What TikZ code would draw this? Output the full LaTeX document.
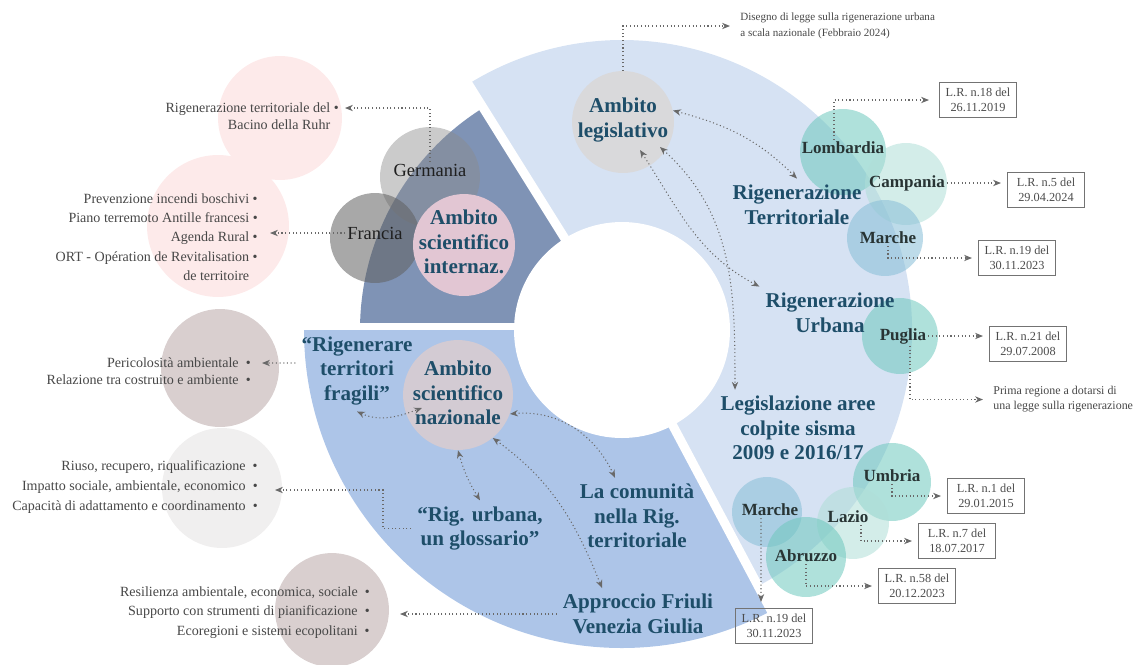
\documentclass[tikz,border=0pt]{standalone}
\usepackage{fontspec}
\setmainfont{Liberation Serif}
\usetikzlibrary{arrows.meta,positioning}
\definecolor{SecLight}{RGB}{214,226,243}
\definecolor{SecDark}{RGB}{127,147,181}
\definecolor{SecMid}{RGB}{173,197,232}
\definecolor{TitleBlue}{RGB}{30,78,105}
\definecolor{NameGrey}{RGB}{40,52,52}
\definecolor{PinkSoft}{RGB}{253,234,234}
\definecolor{PinkCirc}{RGB}{226,198,211}
\definecolor{GreyCirc}{RGB}{217,217,219}
\definecolor{MauveCirc}{RGB}{211,203,211}
\definecolor{TaupeCirc}{RGB}{217,207,207}
\definecolor{PaleGrey}{RGB}{240,239,239}
\definecolor{RegTeal}{RGB}{110,200,190}
\definecolor{RegPale}{RGB}{175,222,215}
\definecolor{RegBlue}{RGB}{135,190,215}
\definecolor{ArrGrey}{RGB}{105,105,105}

\begin{document}
\begin{tikzpicture}[x=0.02cm,y=0.02cm,
  bub/.style={circle,inner sep=0pt,minimum size=#1*0.04cm},
  ttl/.style={font=\bfseries\fontsize{12}{14}\selectfont,text=TitleBlue,align=center},
  regname/.style={font=\bfseries\fontsize{9.7}{11}\selectfont,text=NameGrey,inner sep=1pt},
  country/.style={font=\fontsize{10.5}{12}\selectfont,text=black!88,inner sep=1pt},
  lst/.style={font=\fontsize{8}{11}\selectfont,text=black!72,align=right,anchor=east,inner sep=0pt},
  note/.style={font=\fontsize{6.3}{9}\selectfont,text=black!72,align=left,anchor=west,inner sep=0pt},
  lrbox/.style={draw=black!55,line width=0.6pt,font=\fontsize{7}{8.2}\selectfont,text=black!70,align=center,minimum width=1.54cm,minimum height=0.7cm,inner sep=1pt},
  dots/.style={draw=ArrGrey,line width=0.6pt,dash pattern=on 0.6pt off 1.5pt},
  arr/.style={dots,-{Stealth[length=4.5pt,width=3.6pt]},shorten >=0.12cm},
  darr/.style={dots,{Stealth[length=4.5pt,width=3.6pt]}-{Stealth[length=4.5pt,width=3.6pt]}}]
\useasboundingbox (0,0) rectangle (1137,-664);
\coordinate (C) at (622,-330);
% ring sectors
\fill[SecLight] (C) -- ++(-62:290) arc[start angle=-62,end angle=122,radius=290] -- cycle;
\fill[SecDark] (C) -- ++(122:262) arc[start angle=122,end angle=180,radius=262] -- cycle;
\fill[SecMid] (C) -- ++(180:318) arc[start angle=180,end angle=298,radius=318] -- cycle;
\draw[white,line width=0.18cm] (C) -- ++(122:300);
\draw[white,line width=0.15cm] (C) ++(0,3.5) -- ++(-330,0);
\draw[white,line width=0.18cm] (C) -- ++(-62:340);
\fill[white] (C) circle[radius=108];

% bubbles
\node[bub=62,fill=PinkSoft] (c-ruhr) at (280,-118) {};
\node[bub=71,fill=PinkSoft] (c-fralst) at (218,-226) {};
\node[bub=59,fill=TaupeCirc] (c-peri) at (220,-368) {};
\node[bub=60,fill=PaleGrey] (c-riuso) at (222,-488) {};
\node[bub=57,fill=TaupeCirc] (c-resil) at (332,-610) {};
\node[bub=50,fill=black!45,fill opacity=0.45] (c-germ) at (430,-177) {};
\node[bub=45,fill=black!62,fill opacity=0.55] (c-fran) at (375,-238) {};
\node[bub=51,fill=PinkCirc] (c-inter) at (464,-245) {};
\node[bub=51,fill=GreyCirc] (c-legis) at (623,-122) {};
\node[bub=55,fill=MauveCirc] (c-naz) at (458,-395) {};
\foreach \nm/\x/\y/\r/\c in {lomb/843/-152/43/RegTeal,camp/906/-184/41/RegPale,
    marche/885/-238/38/RegBlue,puglia/900/-336/38/RegTeal,umbria/892/-482/39/RegTeal,
    lazio/853/-523/36/RegPale,marche2/767/-512/35/RegBlue,abru/806/-557/40/RegTeal}
  \node[bub=\r,fill=\c,fill opacity=0.55] (c-\nm) at (\x,\y) {};

% titles
\node[ttl] (legis) at (623,-120) {Ambito\\legislativo};
\node[ttl] (inter) at (464,-242) {Ambito\\scientifico\\internaz.};
\node[ttl] (naz) at (458,-393) {Ambito\\scientifico\\nazionale};
\node[ttl] (rigterr) at (797,-204.5) {Rigenerazione\\Territoriale};
\node[ttl] (rigurb) at (830,-312.5) {Rigenerazione\\Urbana};
\node[ttl] (legisl) at (798,-428) {Legislazione aree\\colpite sisma\\2009 e 2016/17};
\node[ttl] (fragili) at (357,-371) {“Rigenerare\\territori\\fragili”};
\node[ttl] (gloss) at (480,-528.5) {“Rig. urbana,\\un glossario”};
\node[ttl] (comunita) at (637,-516) {La comunità\\nella Rig.\\territoriale};
\node[ttl] (friuli) at (638,-614) {Approccio Friuli\\Venezia Giulia};

% names
\node[country] (germ) at (430,-170) {Germania};
\node[country] (franc) at (375,-233) {Francia};
\foreach \nm/\x/\y/\t in {lomb/843/-148/Lombardia,camp/907/-183/Campania,marche/888/-238/Marche,
    puglia/903/-336/Puglia,umbria/892/-476/Umbria,lazio/848/-517/Lazio,
    marche2/770/-510/Marche,abru/806/-556/Abruzzo}
  \node[regname] (\nm) at (\x,\y) {\t};

% lists
\node[lst,font=\fontsize{8}{9.7}\selectfont] (ruhr) at (339,-116.5) {Rigenerazione territoriale del •\\Bacino della Ruhr\phantom{\ •}};
\node[lst] (fralst) at (258,-237) {Prevenzione incendi boschivi •\\Piano terremoto Antille francesi •\\Agenda Rural •\\ORT - Opération de Revitalisation •\\de territoire\phantom{\ •}};
\node[lst,font=\fontsize{8}{9.7}\selectfont] (peri) at (251,-371.5) {Pericolosità ambientale \ •\\Relazione tra costruito e ambiente \ •};
\node[lst,font=\fontsize{8}{11.4}\selectfont] (riuso) at (258,-487) {Riuso, recupero, riqualificazione \ •\\Impatto sociale, ambientale, economico \ •\\Capacità di adattamento e coordinamento \ •};
\node[lst] (resil) at (370,-612.5) {Resilienza ambientale, economica, sociale \ •\\Supporto con strumenti di pianificazione \ •\\Ecoregioni e sistemi ecopolitani \ •};
\node[note] (disegno) at (740,-26) {Disegno di legge sulla rigenerazione urbana\\a scala nazionale (Febbraio 2024)};
\node[note,font=\fontsize{6.8}{8.6}\selectfont] (prima) at (993,-399.5) {Prima regione a dotarsi di\\una legge sulla rigenerazione};

% law boxes
\foreach \nm/\x/\y/\t in {lr18/978/-100/{L.R. n.18 del\\26.11.2019},lr5/1046/-190/{L.R. n.5 del\\29.04.2024},
    lr19a/1017/-258/{L.R. n.19 del\\30.11.2023},lr21/1028/-344/{L.R. n.21 del\\29.07.2008},
    lr1/986/-496/{L.R. n.1 del\\29.01.2015},lr7/957/-541/{L.R. n.7 del\\18.07.2017},
    lr58/917/-586/{L.R. n.58 del\\20.12.2023},lr19b/774/-626/{L.R. n.19 del\\30.11.2023}}
  \node[lrbox] (\nm) at (\x,\y) {\t};

% free ends
\coordinate (ruhr-in) at (345,-108);
\coordinate (fra-in) at (270,-233);
\coordinate (peri-in) at (262,-363);
\coordinate (riuso-bend) at (383,-490);
\coordinate (riuso-in) at (275,-490);
\coordinate (resil-in) at (400,-614);

% connectors
\draw[arr,shorten >=0pt] (germ.north) |- (ruhr-in);
\draw[arr,shorten >=0pt] (franc.west) -- (fra-in);
\draw[arr,shorten >=0pt] ([yshift=0.16cm]fragili.west) -- (peri-in);
\draw[arr,shorten >=0pt] (gloss.west) -| (riuso-bend) -- (riuso-in);
\draw[arr,shorten >=0pt] (friuli.west) -- (resil-in);
\draw[arr,shorten >=0.2cm] (c-legis.north) |- (disegno.west);
\draw[arr,shorten >=0.2cm] ([xshift=-0.18cm]lomb.north) |- (lr18.west);
\draw[arr] (camp.east) -- (camp.east -| lr5.west);
\draw[arr] (marche.south) |- (lr19a.west);
\draw[arr] (puglia.east) -- (puglia.east -| lr21.west);
\draw[arr,shorten >=0.2cm] ([xshift=0.14cm]puglia.south) |- (prima.west);
\draw[arr] (umbria.south) |- (lr1.west);
\draw[arr] ([xshift=0.26cm]lazio.south) |- (lr7.west);
\draw[arr] (abru.south) |- (lr58.west);
\draw[arr] ([xshift=-0.18cm]marche2.south) -- ([xshift=-0.26cm]lr19b.north);
\draw[darr] (c-legis.13) to[out=-15,in=135] (rigterr.north);
\draw[darr] ([shift={(17,-28)}]c-legis.center) to[out=-57,in=152] (rigurb.north west);
\draw[darr] ([shift={(37,-25)}]c-legis.center) to[out=-42,in=90] ([xshift=-1.26cm]legisl.north);
\draw[darr] (fragili.south) to[out=-25,in=200] ([shift={(-36,-13)}]c-naz.center);
\draw[darr] (c-naz.-90) to[bend right=8] (gloss.north);
\draw[darr] (c-naz.-51) to[out=-36,in=112] ([xshift=-0.72cm]friuli.north);
\draw[darr] (c-naz.-20) to[out=5,in=115] ([xshift=-0.44cm]comunita.north);
\end{tikzpicture}
\end{document}
